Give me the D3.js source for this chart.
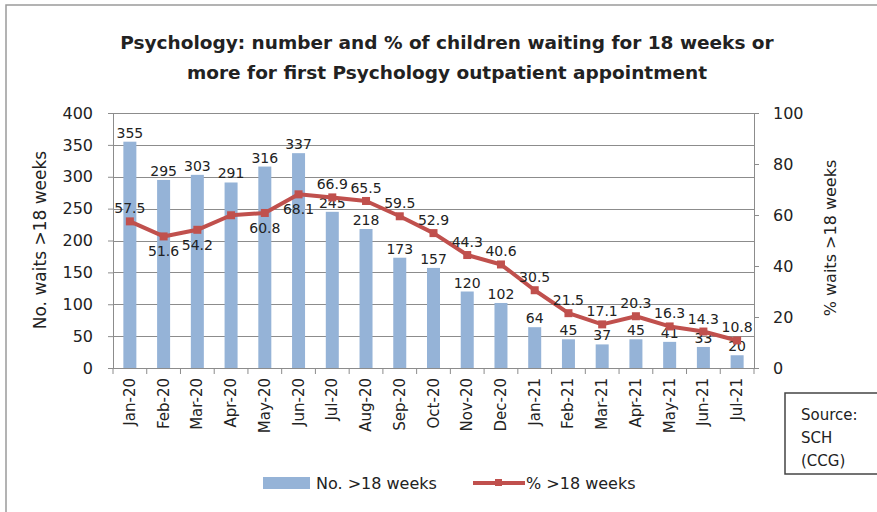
<!DOCTYPE html>
<html>
<head>
<meta charset="utf-8">
<script src="https://cdn.jsdelivr.net/npm/d3@7/dist/d3.min.js"></script>
<style>
  body { margin: 0; background: #fff; }
  svg text { font-family: "DejaVu Sans", sans-serif; fill: #222; }
</style>
</head>
<body>
<svg id="chart" width="877" height="512"></svg>
<script>
/* DATA */
var months = ["Jan-20","Feb-20","Mar-20","Apr-20","May-20","Jun-20","Jul-20","Aug-20","Sep-20","Oct-20",
              "Nov-20","Dec-20","Jan-21","Feb-21","Mar-21","Apr-21","May-21","Jun-21","Jul-21"];
var waits = [355,295,303,291,316,337,245,218,173,157,120,102,64,45,37,45,41,33,20];
var pctWaits = [57.5,51.6,54.2,59.9,60.8,68.1,66.9,65.5,59.5,52.9,44.3,40.6,30.5,21.5,17.1,20.3,16.3,14.3,10.8];
var leftTicks = [0,50,100,150,200,250,300,350,400];
var rightTicks = [0,20,40,60,80,100];

/* LABEL PLACEMENT (EXCEL PUT SOME % LABELS UNDER THE LINE, ONE IS NOT SHOWN) */
var pctBelow = ["Feb-20","Mar-20","May-20","Jun-20"];
var pctHidden = ["Apr-20"];

var svg = d3.select("#chart");
var plotLeft = 113, plotRight = 754, plotTop = 113, plotBottom = 368;

/* OUTER CHART BORDER */
svg.append("rect").attr("x", 6).attr("y", 5).attr("width", 900).attr("height", 600)
  .attr("fill", "none").attr("stroke", "#9a9a9a").attr("stroke-width", 1.5);

/* TITLE */
var title = svg.append("text").attr("text-anchor", "middle")
  .style("font-size", "18.5px").style("font-weight", "bold");
title.append("tspan").attr("x", 447).attr("y", 49)
  .text("Psychology: number and % of children waiting for 18 weeks or");
title.append("tspan").attr("x", 447).attr("y", 79)
  .text("more for first Psychology outpatient appointment");

/* SCALES */
var x = d3.scaleBand().domain(months).range([plotLeft, plotRight]);
var y = d3.scaleLinear().domain([0, 400]).range([plotBottom, plotTop]);
var y2 = d3.scaleLinear().domain([0, 100]).range([plotBottom, plotTop]);
function cx(m){ return x(m) + x.bandwidth()/2; }

/* GRIDLINES */
svg.append("g").selectAll("line").data(leftTicks.slice(1)).enter().append("line")
  .attr("x1", plotLeft).attr("x2", plotRight)
  .attr("y1", function(d){ return Math.round(y(d)) + 0.5; })
  .attr("y2", function(d){ return Math.round(y(d)) + 0.5; })
  .attr("stroke", "#8c8c8c").attr("stroke-width", 1);

/* BARS */
var barW = 13;
svg.append("g").selectAll("rect").data(waits).enter().append("rect")
  .attr("x", function(d, i){ return cx(months[i]) - barW/2; })
  .attr("y", function(d){ return y(d); })
  .attr("width", barW)
  .attr("height", function(d){ return y(0) - y(d); })
  .attr("fill", "#95b3d7");

/* LEFT AXIS */
var axL = svg.append("g").attr("transform", "translate(" + plotLeft + ",0)")
  .call(d3.axisLeft(y).tickValues(leftTicks).tickSize(5).tickPadding(15));
axL.select(".domain").attr("stroke", "#8c8c8c");
axL.selectAll(".tick line").attr("stroke", "#8c8c8c");
axL.selectAll(".tick text").style("font-size", "16px").style("font-family", "DejaVu Sans").attr("fill", "#222");

/* RIGHT AXIS */
var axR = svg.append("g").attr("transform", "translate(" + plotRight + ",0)")
  .call(d3.axisRight(y2).tickValues(rightTicks).tickSize(5).tickPadding(14));
axR.select(".domain").attr("stroke", "#8c8c8c");
axR.selectAll(".tick line").attr("stroke", "#8c8c8c");
axR.selectAll(".tick text").style("font-size", "16px").style("font-family", "DejaVu Sans").attr("fill", "#222");

/* BOTTOM AXIS: TICKS BETWEEN CATEGORIES, LABELS ROTATED */
var axB = svg.append("g").attr("transform", "translate(0," + plotBottom + ")");
axB.append("line").attr("x1", plotLeft).attr("x2", plotRight).attr("y1", 0.5).attr("y2", 0.5).attr("stroke", "#8c8c8c");
axB.selectAll(".sep").data(months.concat(["end"])).enter().append("line")
  .attr("x1", function(d, i){ return plotLeft + i * x.bandwidth(); })
  .attr("x2", function(d, i){ return plotLeft + i * x.bandwidth(); })
  .attr("y1", 0).attr("y2", 6).attr("stroke", "#8c8c8c");
axB.selectAll(".lab").data(months).enter().append("text")
  .attr("transform", function(d){ return "translate(" + (cx(d) + 5) + ",10) rotate(-90)"; })
  .attr("text-anchor", "end")
  .style("font-size", "15px")
  .text(function(d){ return d; });

/* AXIS TITLES */
svg.append("text").attr("transform", "translate(46,240) rotate(-90)")
  .attr("text-anchor", "middle").style("font-size", "17px").text("No. waits >18 weeks");
svg.append("text").attr("transform", "translate(836,238) rotate(-90)")
  .attr("text-anchor", "middle").style("font-size", "16px").text("% waits >18 weeks");

/* BAR VALUE LABELS */
svg.append("g").selectAll("text").data(waits).enter().append("text")
  .attr("x", function(d, i){ return cx(months[i]); })
  .attr("y", function(d){ return y(d) - 4; })
  .attr("text-anchor", "middle").style("font-size", "14px")
  .text(function(d){ return d; });

/* % LINE */
var line = d3.line()
  .x(function(d, i){ return cx(months[i]); })
  .y(function(d){ return y2(d); });
svg.append("path").datum(pctWaits).attr("d", line)
  .attr("fill", "none").attr("stroke", "#c0504d").attr("stroke-width", 4)
  .attr("stroke-linejoin", "round");
svg.append("g").selectAll("rect").data(pctWaits).enter().append("rect")
  .attr("x", function(d, i){ return cx(months[i]) - 4; })
  .attr("y", function(d){ return y2(d) - 4; })
  .attr("width", 8).attr("height", 8).attr("fill", "#c0504d");

/* % LABELS */
var pctRows = pctWaits.map(function(v, i){ return { m: months[i], v: v }; })
  .filter(function(r){ return pctHidden.indexOf(r.m) < 0; });
svg.append("g").selectAll("text").data(pctRows).enter().append("text")
  .attr("x", function(r){ return cx(r.m); })
  .attr("y", function(r){ return pctBelow.indexOf(r.m) >= 0 ? y2(r.v) + 20 : y2(r.v) - 8; })
  .attr("text-anchor", "middle").style("font-size", "14px")
  .text(function(r){ return r.v.toFixed(1); });

/* LEGEND */
var lg = svg.append("g");
lg.append("rect").attr("x", 263).attr("y", 477).attr("width", 47).attr("height", 12).attr("fill", "#95b3d7");
lg.append("text").attr("x", 316).attr("y", 489).style("font-size", "16px").text("No. >18 weeks");
lg.append("line").attr("x1", 473).attr("x2", 525).attr("y1", 483).attr("y2", 483)
  .attr("stroke", "#c0504d").attr("stroke-width", 4);
lg.append("rect").attr("x", 495).attr("y", 479).attr("width", 7).attr("height", 7).attr("fill", "#c0504d");
lg.append("text").attr("x", 526).attr("y", 489).style("font-size", "16px").text("% >18 weeks");

/* SOURCE BOX */
var src = svg.append("g");
src.append("rect").attr("x", 785).attr("y", 393).attr("width", 120).attr("height", 81)
  .attr("fill", "#fff").attr("stroke", "#444").attr("stroke-width", 1.5);
["Source:", "SCH", "(CCG)"].forEach(function(t, i){
  src.append("text").attr("x", 801).attr("y", 420 + i * 23).style("font-size", "15px").text(t);
});
</script>
</body>
</html>
